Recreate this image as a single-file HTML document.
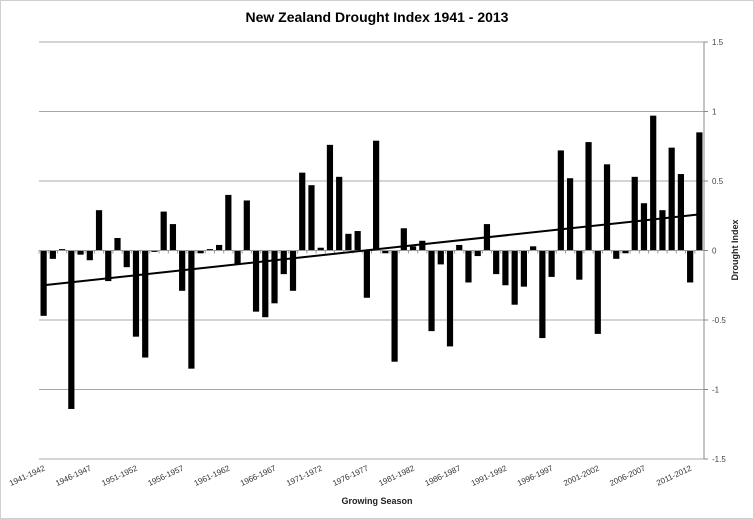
<!DOCTYPE html>
<html><head><meta charset="utf-8"><style>
html,body{margin:0;padding:0;background:#fff;}
svg{display:block;font-family:"Liberation Sans",sans-serif;}
</style></head><body>
<svg id="chart" width="754" height="519" viewBox="0 0 754 519">
<rect x="0.5" y="0.5" width="753" height="518" fill="#fff" stroke="#d0d0d0"/>
<text x="377" y="22" text-anchor="middle" font-size="14" font-weight="bold" fill="#000">New Zealand Drought Index 1941 - 2013</text>
<g id="grid"></g><g id="bars"></g><g id="axes"></g>
<text x="377" y="504" text-anchor="middle" font-size="9" font-weight="bold" fill="#222">Growing Season</text>
<text transform="translate(738,250) rotate(-90)" text-anchor="middle" font-size="9" font-weight="bold" fill="#222">Drought Index</text>
</svg>
<script>
const startYears = Array.from({length:72},(_,i)=>1941+i);
const values = [-0.47,-0.06,0.01,-1.14,-0.03,-0.07,0.29,-0.22,0.09,-0.12,
-0.62,-0.77,-0.01,0.28,0.19,-0.29,-0.85,-0.02,0.01,0.04,
0.40,-0.10,0.36,-0.44,-0.48,-0.38,-0.17,-0.29,0.56,0.47,
0.02,0.76,0.53,0.12,0.14,-0.34,0.79,-0.02,-0.80,0.16,
0.03,0.07,-0.58,-0.10,-0.69,0.04,-0.23,-0.04,0.19,-0.17,
-0.25,-0.39,-0.26,0.03,-0.63,-0.19,0.72,0.52,-0.21,0.78,
-0.60,0.62,-0.06,-0.02,0.53,0.34,0.97,0.29,0.74,0.55,
-0.23,0.85];
const yTicks = [1.5,1,0.5,0,-0.5,-1,-1.5];
const trend = [-0.25,0.26];
const NS="http://www.w3.org/2000/svg";
const L=39,R=704,T=42,B=459;
const step=(R-L)/values.length;
const xc=i=>L+step*(i+0.5);
const y=v=>T+(1.5-v)*(B-T)/3;
function mk(tag,attrs,parent){const e=document.createElementNS(NS,tag);for(const k in attrs)e.setAttribute(k,attrs[k]);parent.appendChild(e);return e;}
const grid=document.getElementById('grid'),bars=document.getElementById('bars'),axes=document.getElementById('axes');
yTicks.forEach(t=>{
  if(t!==0){const g=mk('line',{x1:L,x2:R,y1:y(t),y2:y(t),stroke:'#a8a8a8','stroke-width':1},grid);
  
  }
  const tk=mk('line',{x1:R,x2:R+4,y1:y(t),y2:y(t),stroke:'#888'},axes);
  
  
  const lb=mk('text',{x:R+8,y:y(t)+3,'font-size':8,fill:'#444'},axes);
  lb.textContent=String(t);
  
  
});
const ax=mk('line',{x1:R,x2:R,y1:T,y2:B,stroke:'#888'},axes);


values.forEach((v,i)=>{
  const bw=6.2;
  const r=mk('rect',{x:xc(i)-bw/2,y:Math.min(y(v),y(0)),width:bw,height:Math.max(1,Math.abs(y(v)-y(0))),fill:'#000'},bars);
  
  
});
const z=mk('line',{x1:L,x2:R,y1:y(0),y2:y(0),stroke:'#999','stroke-width':1},axes);


for(let i=0;i<=values.length;i++){
  const t=mk('line',{x1:L+step*i,x2:L+step*i,y1:y(0),y2:y(0)+3,stroke:'#999'},axes);
  
  
}
const tl=mk('line',{x1:xc(0),x2:xc(values.length-1),y1:y(trend[0]),y2:y(trend[1]),stroke:'#000','stroke-width':2},axes);


startYears.forEach((s,i)=>{
  if(i%5!==0)return;
  const x=xc(i)+2,yy=470;
  const t=mk('text',{x:x,y:yy,'font-size':8,fill:'#333','text-anchor':'end',transform:`rotate(-25 ${x} ${yy})`},axes);
  t.textContent=s+'-'+(s+1);
  
  
});
</script>
</body></html>
